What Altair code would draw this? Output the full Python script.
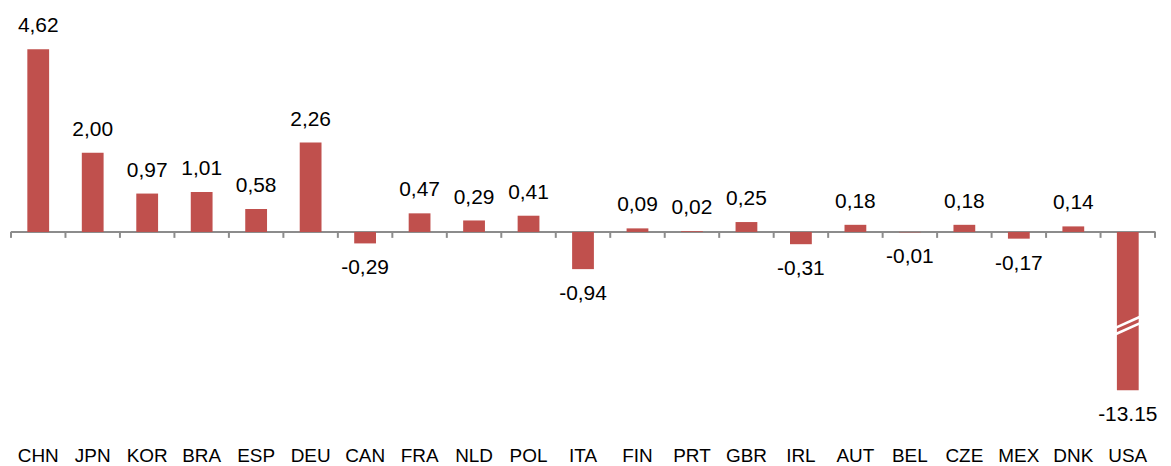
import altair as alt
import pandas as pd

countries = ["CHN", "JPN", "KOR", "BRA", "ESP", "DEU", "CAN", "FRA", "NLD", "POL", "ITA",
             "FIN", "PRT", "GBR", "IRL", "AUT", "BEL", "CZE", "MEX", "DNK", "USA"]
values = [4.62, 2.00, 0.97, 1.01, 0.58, 2.26, -0.29, 0.47, 0.29, 0.41, -0.94,
          0.09, 0.02, 0.25, -0.31, 0.18, -0.01, 0.18, -0.17, 0.14, -13.15]
labels = ["4,62", "2,00", "0,97", "1,01", "0,58", "2,26", "-0,29", "0,47", "0,29", "0,41", "-0,94",
          "0,09", "0,02", "0,25", "-0,31", "0,18", "-0,01", "0,18", "-0,17", "0,14", "-13.15"]

AXIS_MIN = -4.0  # bars beyond this are drawn broken
BREAK_MARKS = [-2.285, -2.445]
TICK_LEN = 0.15

W, H = 1148, 424
STEP = W / len(countries)

df = pd.DataFrame({"cat": countries, "value": values, "label": labels})
df["shown"] = df["value"].clip(lower=AXIS_MIN)
df["zero"] = 0.0
df["tick"] = -TICK_LEN

RED = "#C0504D"
GREY = "#8C8C8C"
FONT = "Liberation Sans"

xscale = alt.Scale(paddingInner=0.6, paddingOuter=0.3)
xaxis = alt.Axis(title=None, orient="bottom", domain=False, ticks=False,
                 labelAngle=0, labelFont=FONT, labelFontSize=19,
                 labelColor="#000000", labelPadding=15)
yscale = alt.Scale(domain=[-5.04, 5.64], nice=False, zero=False)


def X():
    return alt.X("cat:N", sort=countries, scale=xscale, axis=xaxis)


def Y(field):
    return alt.Y(field, type="quantitative", scale=yscale, axis=None)


base = alt.Chart(df)

bars = base.mark_bar(color=RED).encode(
    x=X(),
    y=Y("shown"),
    y2=alt.Y2("zero"),
)

zero_line = base.mark_rule(color=GREY, strokeWidth=2).encode(
    y=Y("zero"),
)

ticks_start = base.mark_rule(color=GREY, strokeWidth=2, xOffset=-STEP / 2).encode(
    x=X(),
    y=Y("zero"),
    y2=alt.Y2("tick"),
)
ticks_end = base.transform_filter(alt.datum.cat == countries[-1]).mark_rule(
    color=GREY, strokeWidth=2, xOffset=STEP / 2).encode(
    x=X(),
    y=Y("zero"),
    y2=alt.Y2("tick"),
)

pos_text = base.transform_filter(alt.datum.value >= 0).mark_text(
    font=FONT, fontSize=21, baseline="middle", dy=-23, color="#000000").encode(
    x=X(),
    y=Y("shown"),
    text=alt.Text("label:N"),
)
neg_text = base.transform_filter(alt.datum.value < 0).mark_text(
    font=FONT, fontSize=21, baseline="middle", dy=25, color="#000000").encode(
    x=X(),
    y=Y("shown"),
    text=alt.Text("label:N"),
)

brk_df = pd.DataFrame({"cat": [countries[-1]] * len(BREAK_MARKS), "shown": BREAK_MARKS})
brk = alt.Chart(brk_df).mark_point(
    shape="M -1 0.45 L 1 -0.45", filled=False, stroke="white", strokeWidth=2.6,
    size=620, opacity=1).encode(
    x=X(),
    y=Y("shown"),
)

chart = alt.layer(zero_line, bars, ticks_start, ticks_end, brk, pos_text, neg_text).properties(
    width=W, height=H,
    padding={"left": 2, "top": 0, "right": 5, "bottom": 5},
).configure_view(strokeWidth=0)

chart.save("out.html", embed_options={"renderer": "svg", "actions": False})
